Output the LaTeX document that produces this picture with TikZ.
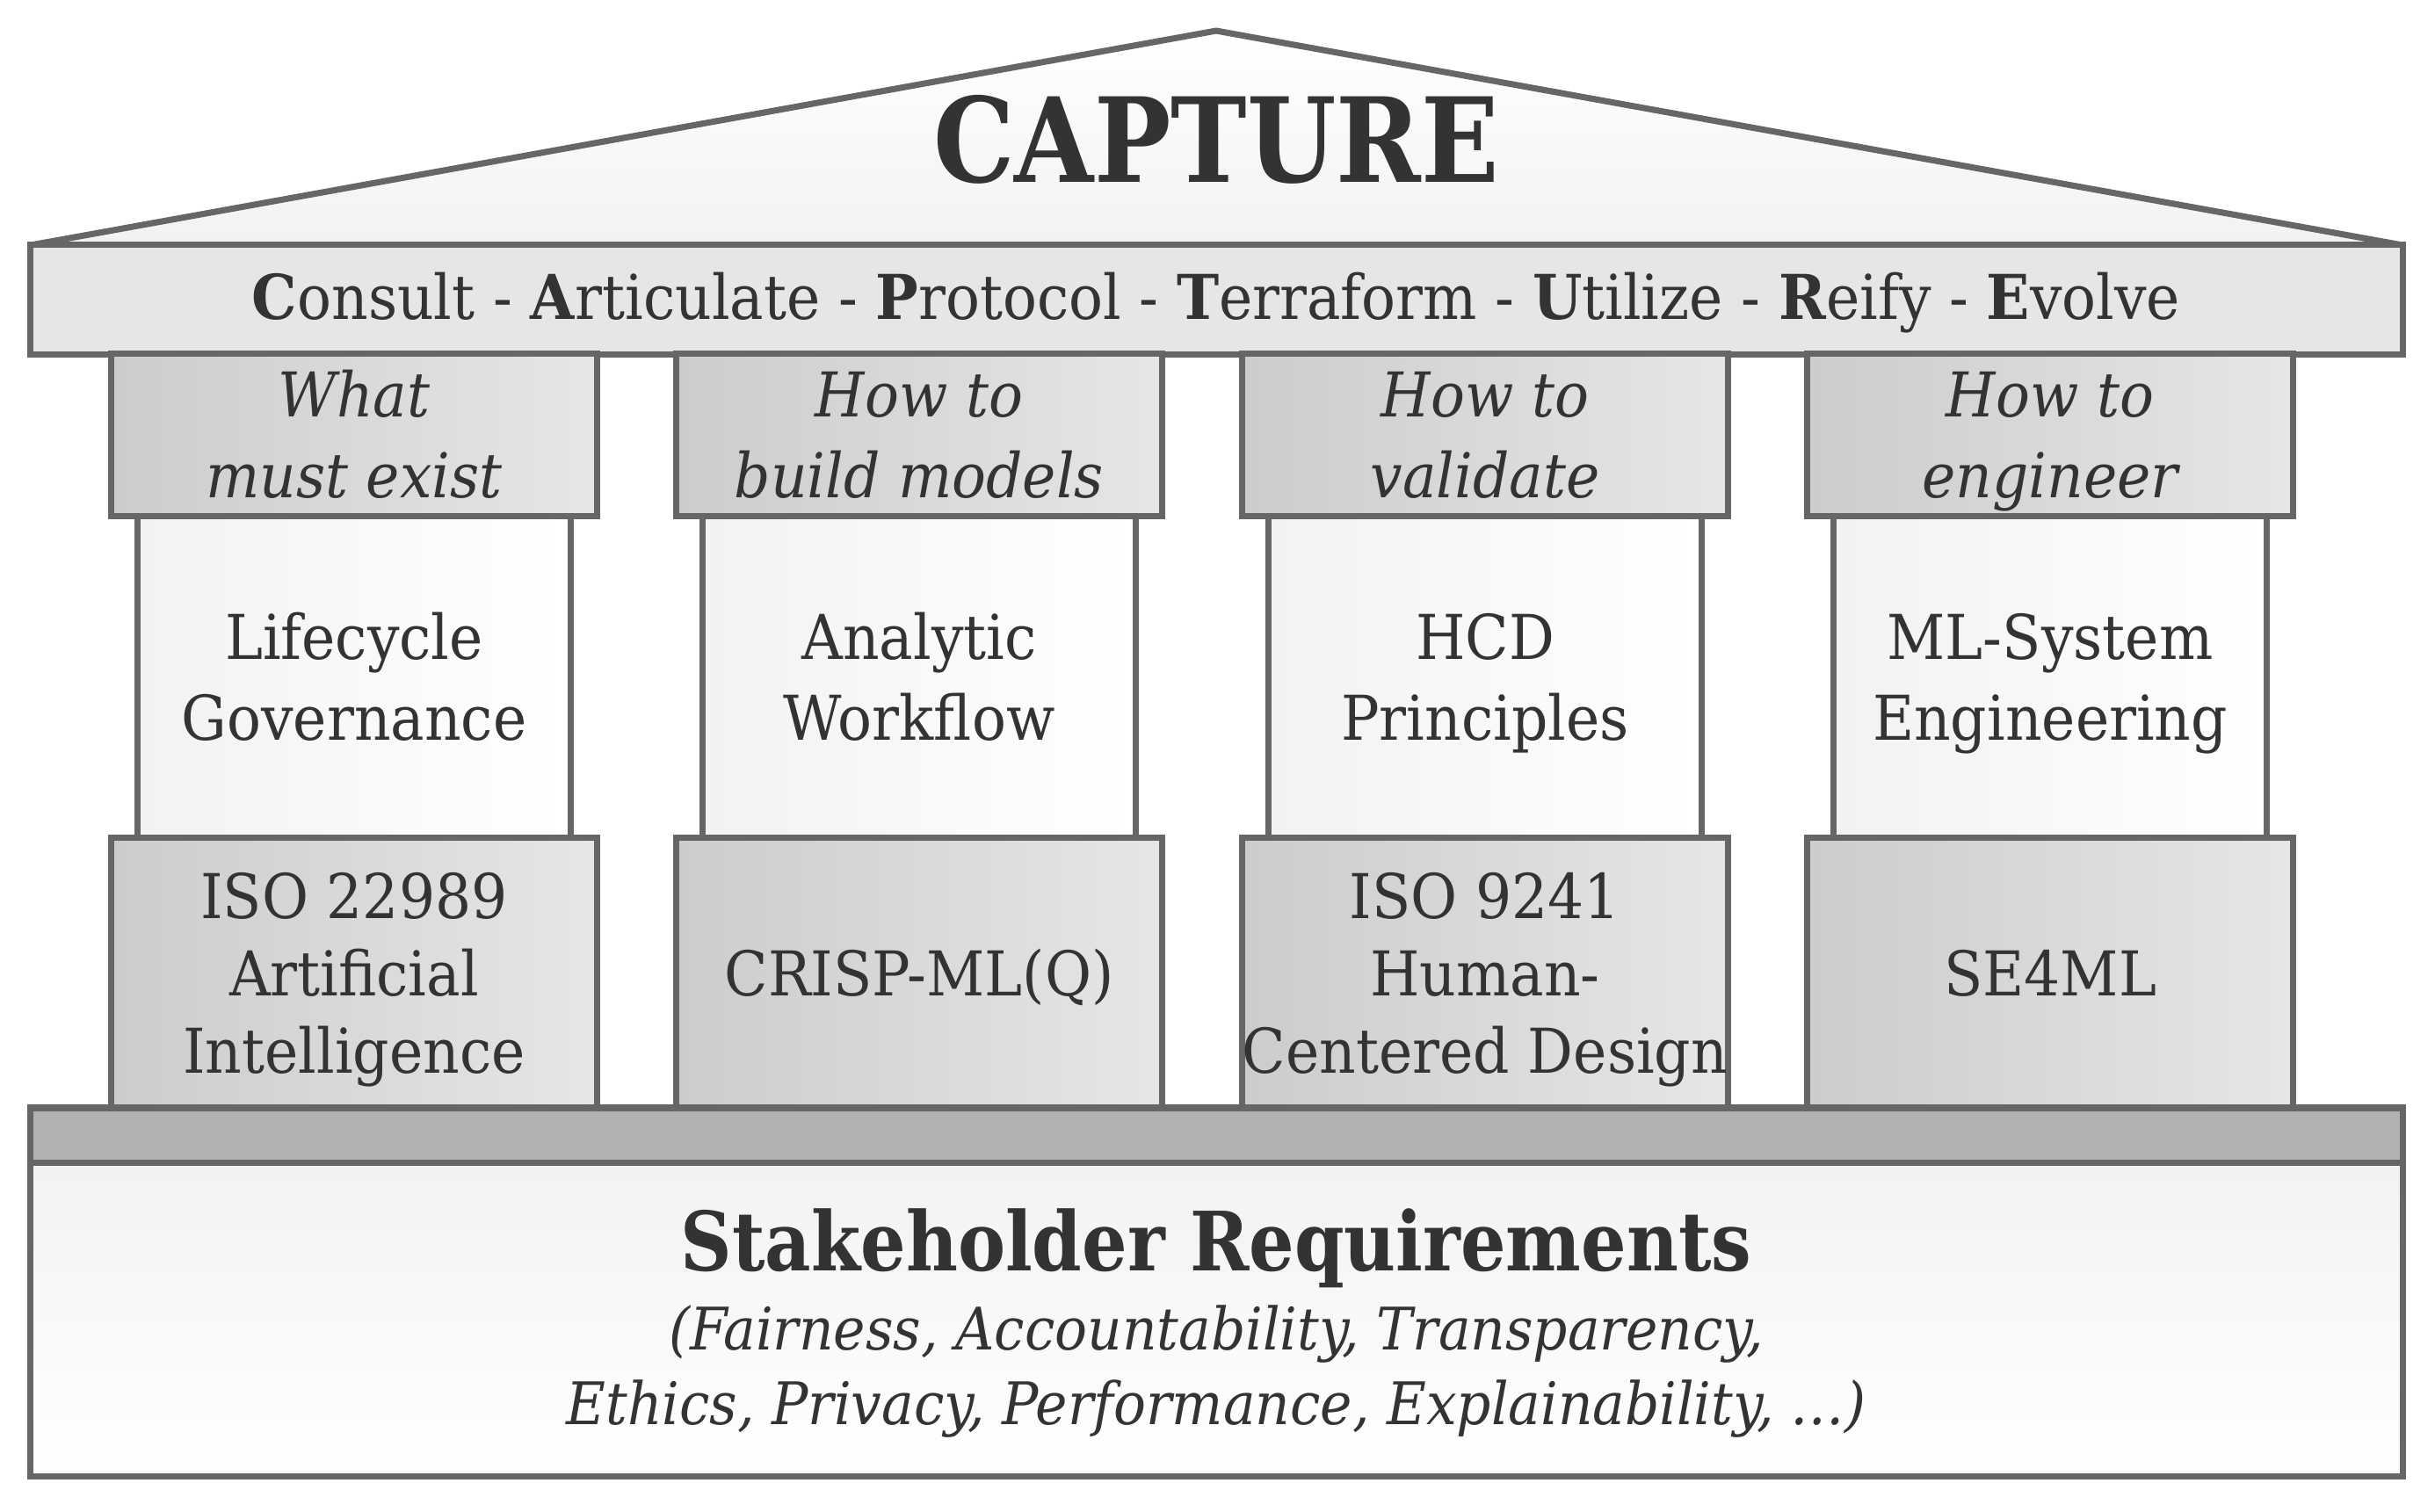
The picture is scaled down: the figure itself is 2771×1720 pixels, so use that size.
\documentclass[tikz,border=0pt]{standalone}
\usepackage{fontspec}
\setmainfont{DejaVu Serif}[FakeStretch=0.92]
\newfontfamily\heavyfam{DejaVu Serif}[FakeStretch=0.87]
\definecolor{edge}{HTML}{666666}
\definecolor{txt}{HTML}{333333}
\definecolor{capL}{HTML}{CCCCCC}
\definecolor{capR}{HTML}{E6E6E6}
\definecolor{shL}{HTML}{F2F2F2}
\definecolor{banner}{HTML}{E6E6E6}
\definecolor{plinth}{HTML}{B2B2B2}
\begin{document}
\begin{tikzpicture}[x=0.01cm,y=-0.01cm,
  box/.style={draw=edge, line width=2pt, inner sep=0pt},
  capbox/.style={box, left color=capL, right color=capR, minimum width=5.52cm, minimum height=1.84cm},
  shaftbox/.style={box, left color=shL, right color=white, minimum width=4.92cm, minimum height=3.67cm},
  basebox/.style={box, left color=capL, right color=capR, minimum width=5.52cm, minimum height=3.06cm},
  wide/.style={box, minimum width=26.99cm},
  lbl/.style={text=txt, inner sep=0pt, anchor=base},
  itl/.style={lbl, font=\fontsize{20}{24}\selectfont\itshape},
  rml/.style={lbl, font=\fontsize{20}{24}\selectfont}
]
\useasboundingbox (0,0) rectangle (2771,1720);
% roof
\draw[draw=edge, line width=2pt, top color=white, bottom color=shL]
  (35,279) -- (1384,35) -- (2734,279) -- cycle;
\node[lbl, font=\heavyfam\fontsize{38}{40}\selectfont\bfseries] (title) at (1384,207) {CAPTURE};
% banner
\node[wide, fill=banner, minimum height=1.24cm] (banner) at (1384.5,341) {};
\node[rml] (motto) at (1384,363)
  {\textbf{C}onsult - \textbf{A}rticulate - \textbf{P}rotocol - \textbf{T}erraform - \textbf{U}tilize - \textbf{R}eify - \textbf{E}volve};
% pillar boxes
\node[shaftbox] (s1) at (403,770.5) {};
\node[shaftbox] (s2) at (1046,770.5) {};
\node[shaftbox] (s3) at (1690,770.5) {};
\node[shaftbox] (s4) at (2333,770.5) {};
\node[capbox] (c1) at (403,495) {};
\node[capbox] (c2) at (1046,495) {};
\node[capbox] (c3) at (1690,495) {};
\node[capbox] (c4) at (2333,495) {};
\node[basebox] (b1) at (403,1107) {};
\node[basebox] (b2) at (1046,1107) {};
\node[basebox] (b3) at (1690,1107) {};
\node[basebox] (b4) at (2333,1107) {};
% capital texts
\node[itl] (c1a) at (403,474) {What};
\node[itl] (c1b) at (403,566) {must exist};
\node[itl] (c2a) at (1046,474) {How to};
\node[itl] (c2b) at (1046,566) {build models};
\node[itl] (c3a) at (1690,474) {How to};
\node[itl] (c3b) at (1690,566) {validate};
\node[itl] (c4a) at (2333,474) {How to};
\node[itl] (c4b) at (2333,566) {engineer};
% shaft texts
\node[rml] (s1a) at (403,750) {Lifecycle};
\node[rml] (s1b) at (403,842) {Governance};
\node[rml] (s2a) at (1046,750) {Analytic};
\node[rml] (s2b) at (1046,842) {Workflow};
\node[rml] (s3a) at (1690,750) {HCD};
\node[rml] (s3b) at (1690,842) {Principles};
\node[rml] (s4a) at (2333,750) {ML-System};
\node[rml] (s4b) at (2333,842) {Engineering};
% base texts
\node[rml] (b1a) at (403,1045) {ISO 22989};
\node[rml] (b1b) at (403,1133) {Artificial};
\node[rml] (b1c) at (403,1221) {Intelligence};
\node[rml] (b2a) at (1046,1133) {CRISP-ML(Q)};
\node[rml] (b3a) at (1690,1045) {ISO 9241};
\node[rml] (b3b) at (1690,1133) {Human-};
\node[rml] (b3c) at (1690,1221) {Centered Design};
\node[rml] (b4a) at (2333,1133) {SE4ML};
% plinth and foundation
\node[wide, fill=plinth, minimum height=0.62cm] (plinth) at (1384.5,1292) {};
\node[wide, top color=shL, bottom color=white, minimum height=3.57cm] (found) at (1384.5,1502) {};
\node[lbl, font=\heavyfam\fontsize{26.5}{30}\selectfont\bfseries] (req) at (1384,1446) {Stakeholder Requirements};
\node[lbl, font=\fontsize{19}{22}\selectfont\itshape] (req1) at (1384,1536) {(Fairness, Accountability, Transparency,};
\node[lbl, font=\fontsize{19}{22}\selectfont\itshape] (req2) at (1384,1621) {Ethics, Privacy, Performance, Explainability, …)};
\end{tikzpicture}
\end{document}
